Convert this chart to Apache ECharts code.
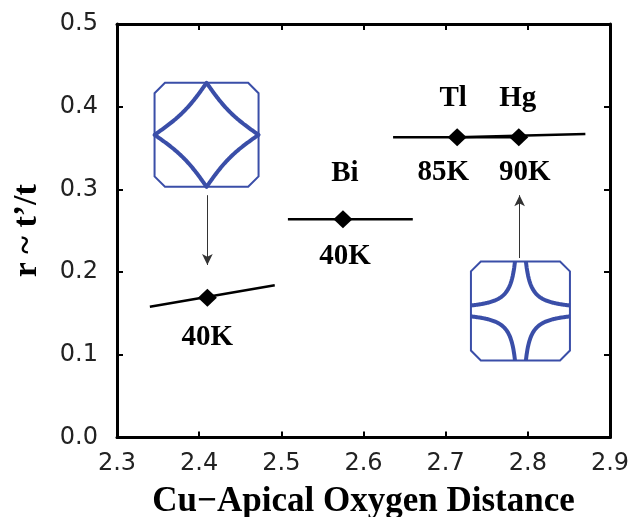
<!DOCTYPE html>
<html>
<head>
<meta charset="utf-8">
<script src="https://cdn.jsdelivr.net/npm/echarts@6/dist/echarts.min.js"></script>
<style>
  html, body { margin: 0; padding: 0; background: #ffffff; }
  #chart { width: 631px; height: 517px; }
</style>
</head>
<body>
<div id="chart"></div>
<script>
// Axis ranges / ticks
const xTicks = [2.3, 2.4, 2.5, 2.6, 2.7, 2.8, 2.9];
const yTicks = [0.0, 0.1, 0.2, 0.3, 0.4, 0.5];

// Cuprate families: Cu-apical oxygen distance vs r = t'/t, with Tc
const compounds = ['', 'Bi', 'Tl', 'Hg'];
const apicalDist = [2.41, 2.575, 2.714, 2.789];
const ratio = [0.169, 0.264, 0.363, 0.363];
const tcLabels = ['40K', '40K', '85K', '90K'];

// Trend segments drawn through each family
const segLa = [[2.340, 0.158], [2.492, 0.184]];
const segBi = [[2.508, 0.264], [2.660, 0.264]];
const segTl = [[2.636, 0.363], [2.789, 0.363]];
const segHg = [[2.714, 0.363], [2.870, 0.367]];

// Fermi-surface insets (centre in data units) and their arrows
const insetCentres = [[2.409, 0.366], [2.791, 0.153]];
const insetKinds = ['closed', 'open'];
const arrowFrom = [[2.41, 0.293], [2.79, 0.217]];
const arrowTo = [[2.41, 0.2086], [2.79, 0.293]];

// ---- styling ----
const BLUE = '#3a4ea8';
const SERIF = '"Liberation Serif", "Times New Roman", serif';
const SANS = '"DejaVu Sans", sans-serif';
const insetSizePx = [104, 99];
const tcLabelOffsets = [[0, 40], [2, 37], [-14, 35], [6, 35]];
const nameLabelOffsets = [[0, 0], [2, -46], [-4, -39], [-1, -39]];

// Closed Fermi surface of the t-t' model at the van Hove filling
function closedSurface(r, n) {
  const q = [];
  for (let i = 0; i <= n; i++) {
    const kx = Math.PI * i / n;
    const cx = Math.cos(kx);
    let cy = (cx - 2 * r) / (2 * r * cx - 1);
    cy = Math.max(-1, Math.min(1, cy));
    q.push([kx / Math.PI, Math.acos(cy) / Math.PI]);
  }
  const pts = [];
  q.forEach(p => pts.push([p[0], p[1]]));
  q.slice().reverse().forEach(p => pts.push([p[0], -p[1]]));
  q.forEach(p => pts.push([-p[0], -p[1]]));
  q.slice().reverse().forEach(p => pts.push([-p[0], p[1]]));
  return pts;
}

function renderInset(params, api) {
  const i = params.dataIndex;
  const c = api.coord([api.value(0), api.value(1)]);
  const h = insetSizePx[i] / 2;
  const ch = h * 0.2;
  const X = u => c[0] + u * h;
  const Y = v => c[1] - v * h;
  const box = [
    [c[0] - h + ch, c[1] - h], [c[0] + h - ch, c[1] - h],
    [c[0] + h, c[1] - h + ch], [c[0] + h, c[1] + h - ch],
    [c[0] + h - ch, c[1] + h], [c[0] - h + ch, c[1] + h],
    [c[0] - h, c[1] + h - ch], [c[0] - h, c[1] - h + ch]
  ];
  const children = [{
    type: 'polygon',
    shape: { points: box },
    style: { fill: '#ffffff', stroke: BLUE, lineWidth: 2 }
  }];
  if (insetKinds[i] === 'closed') {
    const pts = closedSurface(0.17, 80).map(p => [X(p[0]), Y(p[1])]);
    children.push({
      type: 'polygon',
      shape: { points: pts },
      style: { fill: 'none', stroke: BLUE, lineWidth: 4, lineJoin: 'round' }
    });
  } else {
    const c0 = 0.11;
    [[1, 1], [1, -1], [-1, 1], [-1, -1]].forEach(s => {
      const pts = [];
      for (let k = 0; k <= 60; k++) {
        const u = c0 + (1 - c0) * k / 60;
        pts.push([X(s[0] * u), Y(s[1] * c0 / u)]);
      }
      children.push({
        type: 'polyline',
        shape: { points: pts },
        style: { fill: 'none', stroke: BLUE, lineWidth: 4, lineCap: 'butt', lineJoin: 'round' }
      });
    });
  }
  return { type: 'group', children: children };
}

function segmentSeries(data) {
  return {
    type: 'line',
    data: data,
    symbol: 'none',
    lineStyle: { color: '#000', width: 2.5, opacity: 1 },
    silent: true,
    z: 3
  };
}

const labelFont = { fontFamily: SERIF, fontWeight: 'bold', fontSize: 29, color: '#000', opacity: 1 };

const points = apicalDist.map((x, i) => ({
  value: [x, ratio[i]],
  label: { offset: tcLabelOffsets[i] }
}));
const names = apicalDist.map((x, i) => ({
  value: [x, ratio[i]],
  label: { offset: nameLabelOffsets[i] }
}));

const baseX = {
  type: 'value', min: xTicks[0], max: xTicks[xTicks.length - 1], interval: 0.1,
  splitLine: { show: false },
  axisLine: { show: true, onZero: false, lineStyle: { color: '#000', width: 3 } },
  axisTick: { show: true, inside: true, length: 6, lineStyle: { color: '#000', width: 2 } }
};
const baseY = {
  type: 'value', min: yTicks[0], max: yTicks[yTicks.length - 1], interval: 0.1,
  splitLine: { show: false },
  axisLine: { show: true, onZero: false, lineStyle: { color: '#000', width: 3 } },
  axisTick: { show: true, inside: true, length: 6, lineStyle: { color: '#000', width: 2 } }
};

const option = {
  animation: false,
  backgroundColor: '#ffffff',
  grid: { left: 117, right: 21, top: 24, bottom: 79.5, containLabel: false, outerBoundsMode: 'none' },
  xAxis: [
    Object.assign({}, baseX, {
      position: 'bottom',
      name: 'Cu\u2212Apical Oxygen Distance',
      nameLocation: 'middle',
      nameGap: 64,
      nameTextStyle: { fontFamily: SERIF, fontWeight: 'bold', fontSize: 35, color: '#000', verticalAlign: 'middle' },
      axisLabel: { show: true, margin: 14, fontFamily: SANS, fontSize: 24, color: '#222',
        formatter: v => v.toFixed(1) }
    }),
    Object.assign({}, baseX, { position: 'top', axisLabel: { show: false } })
  ],
  yAxis: [
    Object.assign({}, baseY, {
      position: 'left',
      name: 'r ~ t\u2019/t',
      nameLocation: 'middle',
      nameGap: 90,
      nameTextStyle: { fontFamily: SERIF, fontWeight: 'bold', fontSize: 34, color: '#000', verticalAlign: 'middle' },
      axisLabel: { show: true, margin: 19, fontFamily: SANS, fontSize: 24, color: '#222',
        formatter: v => v.toFixed(1) }
    }),
    Object.assign({}, baseY, { position: 'right', axisLabel: { show: false } })
  ],
  series: [
    {
      type: 'custom',
      renderItem: renderInset,
      data: insetCentres,
      silent: true,
      clip: false,
      z: 1
    },
    {
      type: 'line',
      data: [],
      silent: true,
      z: 2,
      markLine: {
        silent: true,
        symbol: ['none', 'arrow'],
        symbolSize: [8, 11],
        label: { show: false },
        lineStyle: { color: '#333', width: 1, type: 'solid' },
        data: arrowFrom.map((f, i) => [{ coord: f }, { coord: arrowTo[i] }])
      }
    },
    segmentSeries(segLa),
    segmentSeries(segBi),
    segmentSeries(segTl),
    segmentSeries(segHg),
    {
      type: 'scatter',
      data: points,
      symbol: 'diamond',
      symbolSize: [19, 18],
      itemStyle: { color: '#000', opacity: 1 },
      silent: true,
      z: 5,
      label: Object.assign({
        show: true, position: 'inside',
        formatter: p => tcLabels[p.dataIndex]
      }, labelFont)
    },
    {
      type: 'scatter',
      data: names,
      symbolSize: 0,
      itemStyle: { opacity: 1 },
      silent: true,
      z: 5,
      label: Object.assign({
        show: true, position: 'inside',
        formatter: p => compounds[p.dataIndex]
      }, labelFont)
    }
  ]
};

const chart = echarts.init(document.getElementById('chart'), null, { renderer: 'canvas' });
chart.setOption(option);
</script>
</body>
</html>
